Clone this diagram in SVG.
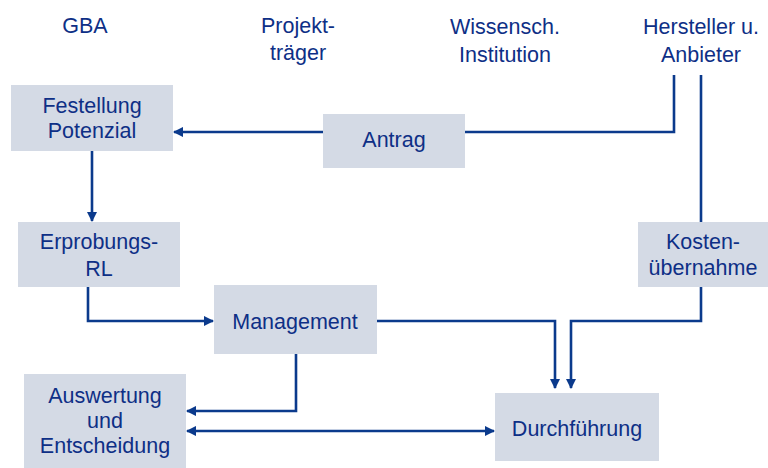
<svg xmlns="http://www.w3.org/2000/svg" width="768" height="468" viewBox="0 0 768 468">
<style>
.box{fill:#d4dae5;}
.t{font-family:"Liberation Sans",Arial,sans-serif;font-size:21.5px;fill:#0e2f86;text-anchor:middle;}
.c{fill:none;stroke:#0b3a8c;stroke-width:2.6;}
</style>
<defs>
<marker id="ah" viewBox="0 0 10 10" refX="9" refY="5" markerWidth="4" markerHeight="4" orient="auto-start-reverse" markerUnits="strokeWidth">
<path d="M0,0 L10,5 L0,10 z" fill="#0b3a8c"/>
</marker>
</defs>
<rect width="768" height="468" fill="#ffffff"/>
<g id="headers">
<text class="t" x="85" y="33">GBA</text>
<text class="t" x="298" y="33">Projekt-</text>
<text class="t" x="298" y="60">träger</text>
<text class="t" x="505" y="34">Wissensch.</text>
<text class="t" x="505" y="62">Institution</text>
<text class="t" x="701" y="34">Hersteller u.</text>
<text class="t" x="701" y="62">Anbieter</text>
</g>
<g id="festellung">
<rect class="box" x="11" y="85" width="162" height="66"/>
<text class="t" x="92" y="113">Festellung</text>
<text class="t" x="92" y="138">Potenzial</text>
</g>
<g id="antrag">
<rect class="box" x="323" y="114" width="142" height="54"/>
<text class="t" x="394" y="147">Antrag</text>
</g>
<g id="erprobung">
<rect class="box" x="18" y="222" width="162" height="65"/>
<text class="t" x="99" y="249">Erprobungs-</text>
<text class="t" x="99" y="276">RL</text>
</g>
<g id="kosten">
<rect class="box" x="638" y="222" width="130" height="65"/>
<text class="t" x="703" y="249">Kosten-</text>
<text class="t" x="703" y="275">übernahme</text>
</g>
<g id="management">
<rect class="box" x="214" y="285" width="163" height="69"/>
<text class="t" x="295" y="329">Management</text>
</g>
<g id="auswertung">
<rect class="box" x="24" y="374" width="162" height="94"/>
<text class="t" x="105" y="403">Auswertung</text>
<text class="t" x="105" y="428">und</text>
<text class="t" x="105" y="453">Entscheidung</text>
</g>
<g id="durchfuehrung">
<rect class="box" x="495" y="393" width="164" height="68"/>
<text class="t" x="577" y="436">Durchführung</text>
</g>
<g id="connectors">
<path class="c" d="M323,132 H174" marker-end="url(#ah)"/>
<path class="c" d="M674,75 V132 H465"/>
<path class="c" d="M701,75 V222"/>
<path class="c" d="M92,151 V221" marker-end="url(#ah)"/>
<path class="c" d="M88,287 V321 H213" marker-end="url(#ah)"/>
<path class="c" d="M377,321 H555 V388" marker-end="url(#ah)"/>
<path class="c" d="M701,287 V321 H571 V388" marker-end="url(#ah)"/>
<path class="c" d="M296,354 V411 H187" marker-end="url(#ah)"/>
<path class="c" d="M187,431 H494" marker-start="url(#ah)" marker-end="url(#ah)"/>
</g>
</svg>
